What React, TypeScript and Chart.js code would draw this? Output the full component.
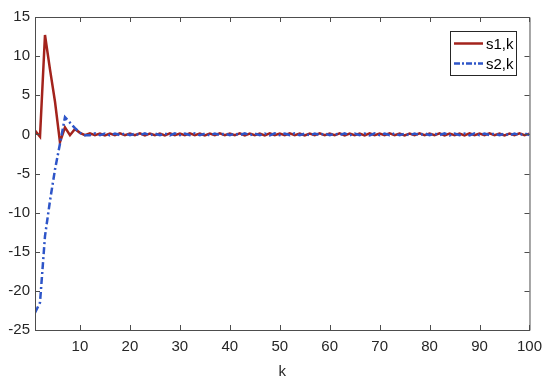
import React, { useEffect, useRef } from "react";
import { Chart, registerables } from "chart.js";

Chart.register(...registerables);

const K: number[] = Array.from({ length: 100 }, (_, i) => i + 1);

const S1: number[] = [
  0.5, -0.3, 12.7, 8.3, 4.2, -1.0, 0.9, -0.1, 0.7, 0.2,
  -0.1, 0.12, -0.1, 0.1, -0.12, 0.1, -0.1, 0.12, -0.1, 0.1,
  -0.1, 0.12, -0.12, 0.1, -0.1, 0.1, -0.12, 0.12, -0.1, 0.1,
  -0.1, 0.12, -0.1, 0.1, -0.12, 0.1, -0.1, 0.12, -0.1, 0.1,
  -0.1, 0.12, -0.12, 0.1, -0.1, 0.1, -0.12, 0.12, -0.1, 0.1,
  -0.1, 0.12, -0.1, 0.1, -0.12, 0.1, -0.1, 0.12, -0.1, 0.1,
  -0.1, 0.12, -0.12, 0.1, -0.1, 0.1, -0.12, 0.12, -0.1, 0.1,
  -0.1, 0.12, -0.1, 0.1, -0.12, 0.1, -0.1, 0.12, -0.1, 0.1,
  -0.1, 0.12, -0.12, 0.1, -0.1, 0.1, -0.12, 0.12, -0.1, 0.1,
  -0.1, 0.12, -0.1, 0.1, -0.12, 0.1, -0.1, 0.12, -0.1, 0.1,
];

const S2: number[] = [
  -22.8, -21.5, -13.0, -8.5, -4.5, -1.2, 2.2, 1.5, 0.8, 0.2,
  -0.1, -0.1, 0.12, -0.1, 0.1, -0.12, 0.1, -0.1, 0.12, -0.1,
  0.1, -0.1, 0.12, -0.12, 0.1, -0.1, 0.1, -0.12, 0.12, -0.1,
  0.1, -0.1, 0.12, -0.1, 0.1, -0.12, 0.1, -0.1, 0.12, -0.1,
  0.1, -0.1, 0.12, -0.12, 0.1, -0.1, 0.1, -0.12, 0.12, -0.1,
  0.1, -0.1, 0.12, -0.1, 0.1, -0.12, 0.1, -0.1, 0.12, -0.1,
  0.1, -0.1, 0.12, -0.12, 0.1, -0.1, 0.1, -0.12, 0.12, -0.1,
  0.1, -0.1, 0.12, -0.1, 0.1, -0.12, 0.1, -0.1, 0.12, -0.1,
  0.1, -0.1, 0.12, -0.12, 0.1, -0.1, 0.1, -0.12, 0.12, -0.1,
  0.1, -0.1, 0.12, -0.1, 0.1, -0.12, 0.1, -0.1, 0.12, -0.1,
];

const SERIES_NAMES = ["s1,k", "s2,k"];
const X_TICKS = [10, 20, 30, 40, 50, 60, 70, 80, 90, 100];
const Y_TICKS = [-25, -20, -15, -10, -5, 0, 5, 10, 15];

const RED = "#a3231c";
const BLUE = "#2e55c8";
const AXIS = "#4d4d4d";
const TEXT = "#262626";
const FONT = "Liberation Sans, Arial, sans-serif";

const framePlugin = {
  id: "frameTicks",
  afterDatasetsDraw(chart: any) {
    const { ctx, chartArea } = chart;
    const { left, right, top, bottom } = chartArea;
    const xs = chart.scales.x;
    const ys = chart.scales.y;
    const tl = 5;
    ctx.save();
    ctx.strokeStyle = AXIS;
    ctx.lineWidth = 1;
    ctx.beginPath();
    ctx.rect(left + 0.5, top + 0.5, right - left, bottom - top);
    ctx.stroke();
    ctx.beginPath();
    for (const v of X_TICKS) {
      const px = Math.round(xs.getPixelForValue(v)) + 0.5;
      ctx.moveTo(px, bottom);
      ctx.lineTo(px, bottom - tl);
      ctx.moveTo(px, top);
      ctx.lineTo(px, top + tl);
    }
    for (const v of Y_TICKS) {
      const py = Math.round(ys.getPixelForValue(v)) + 0.5;
      ctx.moveTo(left, py);
      ctx.lineTo(left + tl, py);
      ctx.moveTo(right, py);
      ctx.lineTo(right - tl, py);
    }
    ctx.stroke();

    // legend
    const bx = 450, by = 31, bw = 66, bh = 44;
    ctx.fillStyle = "#ffffff";
    ctx.fillRect(bx, by, bw, bh);
    ctx.strokeStyle = TEXT;
    ctx.lineWidth = 1;
    ctx.strokeRect(bx + 0.5, by + 0.5, bw, bh);
    const rows = [
      { name: SERIES_NAMES[0], color: RED, dash: [] as number[] },
      { name: SERIES_NAMES[1], color: BLUE, dash: [6, 2, 2, 2] },
    ];
    rows.forEach((r, i) => {
      const yy = by + 12.5 + i * 20;
      ctx.strokeStyle = r.color;
      ctx.lineWidth = 2.5;
      ctx.setLineDash(r.dash);
      ctx.beginPath();
      ctx.moveTo(bx + 4, yy);
      ctx.lineTo(bx + 33, yy);
      ctx.stroke();
      ctx.setLineDash([]);
      ctx.fillStyle = "#000000";
      ctx.font = `15px ${FONT}`;
      ctx.textBaseline = "middle";
      ctx.textAlign = "left";
      ctx.fillText(r.name, bx + 36, yy + 1);
    });
    ctx.restore();
  },
};

export default function App() {
  const ref = useRef<HTMLCanvasElement | null>(null);
  useEffect(() => {
    document.body.style.margin = "0";
    const canvas = ref.current;
    if (!canvas) return;
    const chart = new Chart(canvas, {
      type: "line",
      data: {
        datasets: [
          {
            label: SERIES_NAMES[0],
            data: K.map((k, i) => ({ x: k, y: S1[i] })),
            borderColor: RED,
            borderWidth: 2.5,
            pointRadius: 0,
            fill: false,
            tension: 0,
            order: 1,
          },
          {
            label: SERIES_NAMES[1],
            data: K.map((k, i) => ({ x: k, y: S2[i] })),
            borderColor: BLUE,
            borderWidth: 2.5,
            borderDash: [7, 3, 2, 3],
            pointRadius: 0,
            fill: false,
            tension: 0,
            order: 0,
          },
        ],
      },
      options: {
        animation: false,
        responsive: false,
        maintainAspectRatio: false,
        layout: { padding: { top: 17, right: 17, left: 0, bottom: 0 } },
        plugins: { legend: { display: false }, tooltip: { enabled: false } },
        scales: {
          x: {
            type: "linear",
            min: 1,
            max: 100,
            grid: { display: false, drawTicks: false },
            border: { display: false },
            afterBuildTicks: (s: any) => {
              s.ticks = X_TICKS.map((v) => ({ value: v }));
            },
            afterFit: (s: any) => {
              s.height = 55;
            },
            ticks: {
              color: TEXT,
              font: { family: FONT, size: 15 },
              padding: 8,
              maxRotation: 0,
              autoSkip: false,
            },
            title: {
              display: true,
              text: "k",
              color: TEXT,
              font: { family: FONT, size: 15 },
              padding: { top: 0, bottom: 4 },
            },
          },
          y: {
            type: "linear",
            min: -25,
            max: 15,
            grid: { display: false, drawTicks: false },
            border: { display: false },
            afterBuildTicks: (s: any) => {
              s.ticks = Y_TICKS.map((v) => ({ value: v }));
            },
            afterFit: (s: any) => {
              s.width = 35;
            },
            ticks: {
              color: TEXT,
              font: { family: FONT, size: 15 },
              padding: 5,
              autoSkip: false,
            },
          },
        },
      },
      plugins: [framePlugin],
    });
    return () => chart.destroy();
  }, []);
  return (
    <div style={{ position: "absolute", left: 0, top: 0, width: 550, height: 385, background: "#fff" }}>
      <canvas ref={ref} width={550} height={385} style={{ display: "block" }} />
    </div>
  );
}
